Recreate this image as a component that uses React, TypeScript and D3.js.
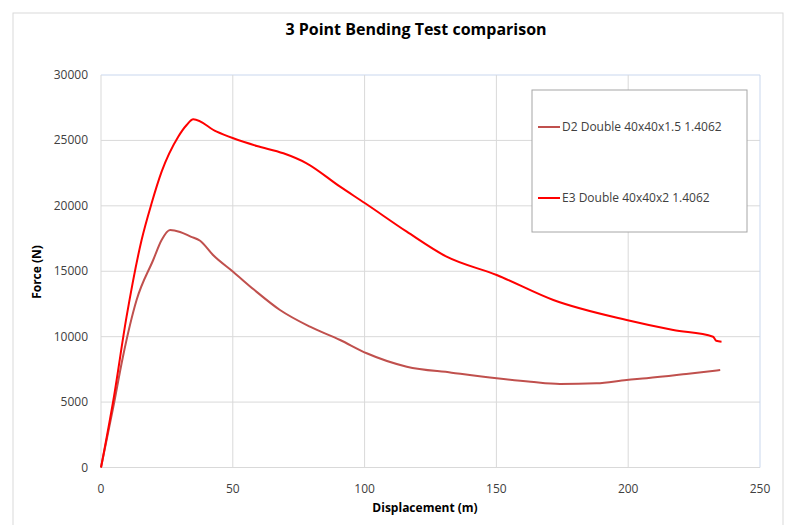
import * as d3 from 'd3';

const W = 795;
const H = 525;
const FONT = "'Liberation Sans Narrow', 'Open Sans', Arial, sans-serif";

// displacement (m) / force (N)
const d2Disp = [0, 4.7, 8.3, 13.5, 19.8, 23, 26.2, 30, 34, 37.6, 42.5, 50.1, 58, 67.9, 79.3, 90.7, 100.8, 116, 133, 150.1, 163, 174.1, 188, 199.4, 207, 222, 234.9];
const d2Force = [0, 4650, 8450, 12800, 15860, 17390, 18150, 18000, 17650, 17335, 16240, 14966, 13600, 12040, 10760, 9745, 8730, 7705, 7250, 6818, 6550, 6382, 6436, 6688, 6818, 7147, 7453];

const e3Disp = [0, 4.7, 9.7, 15.4, 19.2, 23, 29.3, 32.5, 35, 43.9, 50.2, 59.1, 69.2, 78, 90.7, 100.2, 116, 131.1, 150.1, 171.6, 199.4, 217.1, 232.2, 233.4, 235.4];
const e3Force = [0, 5160, 11527, 17390, 20195, 22610, 25285, 26180, 26615, 25667, 25163, 24574, 24016, 23252, 21463, 20195, 18023, 16112, 14714, 12803, 11274, 10510, 9998, 9692, 9616];

const xTicks = [0, 50, 100, 150, 200, 250];
const yTicks = [0, 5000, 10000, 15000, 20000, 25000, 30000];

const seriesNames = ['D2 Double 40x40x1.5 1.4062', 'E3 Double 40x40x2 1.4062'];
const seriesColors = ['#c0504d', '#ff0000'];

export default function App() {
  const x = d3.scaleLinear().domain([0, 250]).range([101, 760]);
  const y = d3.scaleLinear().domain([0, 30000]).range([467.5, 75]);

  const line = d3
    .line<[number, number]>()
    .x(d => x(d[0]))
    .y(d => y(d[1]))
    .curve(d3.curveMonotoneX);

  const series = [
    d2Disp.map((v, i) => [v, d2Force[i]] as [number, number]),
    e3Disp.map((v, i) => [v, e3Force[i]] as [number, number]),
  ];

  return (
    <div style={{ position: 'fixed', left: 0, top: 0 }}>
      <svg width={W} height={H} style={{ display: 'block', background: '#fff' }} fontFamily={FONT}>
        <rect x={13} y={13} width={770} height={540} fill="#fff" stroke="#d9d9d9" />
        <text x={416} y={35} textAnchor="middle" fontSize={16} fontWeight="bold" fill="#000">
          3 Point Bending Test comparison
        </text>

        {/* grid */}
        {yTicks.map(t => (
          <line key={'gy' + t} x1={x(0)} x2={x(250)} y1={y(t)} y2={y(t)} stroke={t === 30000 ? '#c9d7ee' : '#d9d9d9'} />
        ))}
        {xTicks.map(t => (
          <line key={'gx' + t} x1={x(t)} x2={x(t)} y1={y(0)} y2={y(30000)} stroke={t === 250 ? '#c9d7ee' : '#d9d9d9'} />
        ))}

        {/* tick labels */}
        {yTicks.map(t => (
          <text key={'ty' + t} x={88} y={y(t) + 4} textAnchor="end" fontSize={12} fill="#404040">
            {t}
          </text>
        ))}
        {xTicks.map(t => (
          <text key={'tx' + t} x={x(t)} y={493} textAnchor="middle" fontSize={12} fill="#404040">
            {t}
          </text>
        ))}

        <text x={425} y={512} textAnchor="middle" fontSize={12} fontWeight="bold" fill="#000">
          Displacement (m)
        </text>
        <text transform="translate(41,272) rotate(-90)" textAnchor="middle" fontSize={12} fontWeight="bold" fill="#000">
          Force (N)
        </text>

        {series.map((s, i) => (
          <path key={'s' + i} d={line(s) ?? ''} fill="none" stroke={seriesColors[i]} strokeWidth={2} strokeLinejoin="round" />
        ))}

        {/* legend */}
        <rect x={532} y={90} width={215} height={142} fill="#fff" stroke="#a6a6a6" />
        {seriesNames.map((n, i) => {
          const ly = i === 0 ? 127 : 198;
          return (
            <g key={'l' + i}>
              <line x1={538} x2={560} y1={ly} y2={ly} stroke={seriesColors[i]} strokeWidth={2} />
              <text x={562} y={ly + 4} fontSize={12} fill="#404040">
                {n}
              </text>
            </g>
          );
        })}
      </svg>
    </div>
  );
}
